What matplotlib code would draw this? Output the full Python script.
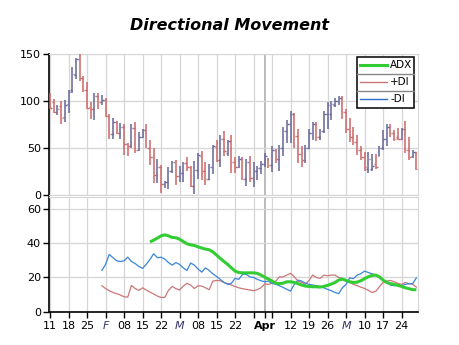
import numpy as np
import pandas as pd
import matplotlib
matplotlib.use("Agg")
import matplotlib.pyplot as plt
from matplotlib.lines import Line2D
from matplotlib.patches import Rectangle

# daily price bars, one per weekday from 11 Jan 2010
start_date = "2010-01-11"
open_ = [105, 99, 88, 95, 83, 97, 112, 128, 145, 124, 112, 94, 92, 105, 99, 101, 84, 65, 78, 66,
         72, 54, 52, 71, 48, 62, 69, 50, 40, 21, 30, 12, 13.5, 25, 35, 20, 23, 34, 30, 10,
         27, 42, 25, 17, 30, 51, 37, 60, 45, 57, 35, 30, 38, 17, 35, 18, 26, 29, 33, 38,
         32, 48, 38, 50, 68, 76, 86, 63, 44, 37, 50, 66, 75, 62, 68, 86, 86, 96, 100, 103,
         88, 70, 62, 56, 48, 40, 28, 28, 33, 42, 50, 60, 72, 66, 62, 60, 70, 48, 41, 46]
high = [108, 102, 96, 100, 101, 112, 136, 146, 150, 127, 120, 99, 109, 109, 106, 103, 86, 82, 79, 77,
        76, 55, 75, 78, 67, 70, 76, 58, 50, 38, 32, 14.5, 30, 36, 37.5, 31, 34.7, 40, 31, 36,
        44.7, 47, 35, 33, 53.5, 59, 64, 67.7, 59, 64, 40, 42, 40, 38, 42, 35, 31, 36, 45, 39,
        52, 49, 53, 72, 80, 89, 87, 70, 52, 53, 70, 78, 78, 70, 89, 99, 100, 103, 105, 105,
        92, 82, 72, 64, 52, 46, 46, 44, 44, 52, 69, 76, 75, 69, 71, 71, 79, 62, 48, 46]
low = [91, 87, 85, 76, 78, 87, 109, 123, 121, 110, 92, 81, 80, 92, 96, 83, 60, 60, 65, 60,
       43, 42, 50, 45, 47, 61, 50, 32, 13, 13, 2, 7, 6, 23, 11, 13.5, 13.5, 25, 8.5, 1,
       17, 16, 11, 16, 22, 34.7, 30, 42, 42, 23, 23, 29, 16, 10, 14, 9, 16, 22, 30, 29,
       24, 34, 25, 42, 55, 55, 50, 34, 30, 34, 49, 59, 57, 58, 66, 70, 80, 94, 96, 81,
       66, 56, 53, 43, 37, 25, 23, 25, 28, 41, 48, 52, 62, 57, 58, 58, 45, 37, 39, 27]
close = [93, 88, 91, 82, 96, 110, 129, 145, 124, 112, 93, 92, 105, 99, 101, 84, 65, 78, 66, 72,
         54, 52, 71, 48, 62, 69, 50, 40, 21, 30, 12, 13.5, 25.5, 35, 20, 23.5, 34, 30, 10, 27,
         42.5, 25, 17, 30, 51.6, 37.5, 60, 47, 57, 35, 30, 38, 17, 35, 18, 26, 29, 33, 42, 32,
         48, 38, 50, 68, 76, 86, 63, 44, 37, 50, 66, 75, 62, 68, 86, 96, 97, 100, 103, 88,
         70, 62, 56, 48, 40, 30, 38, 31, 30, 50, 60, 72, 66, 60, 60, 70, 48, 40, 46, 28]

# indicator series (first value index given by *_start)
di_start = 14
plus_di = [15.1, 13.5, 12.2, 11.2, 10.5, 9.7, 8.7, 8.5, 15.3, 13.5, 12.4, 13.9, 12.6, 11.4, 10.3, 9.1,
           8.3, 8.3, 12.4, 14.7, 13.4, 12.6, 14.9, 16.5, 15.5, 13.5, 15.1, 14.9, 13.9, 12.8, 17.8, 18.2,
           18, 17, 16.3, 15.5, 14.7, 13.9, 13.4, 13, 12.6, 12.2, 12.8, 13.9, 16.1, 15.9, 16.6, 17.8,
           20.3, 20.3, 21.3, 22.3, 20.3, 17.8, 17, 15.9, 18.2, 21.3, 19.9, 19.4, 21.3, 20.9, 21.3, 21.3,
           19.9, 19.4, 17.8, 17, 15.9, 15.1, 14.3, 13.5, 12.4, 11.2, 11.8, 14.5, 17, 17.8, 18.2, 17.4,
           16.5, 15.9, 17, 16.3, 15.9, 14.3]
minus_di = [24, 27.5, 33.3, 31.4, 29.6, 29.2, 29.6, 31.7, 29.2, 28, 26.3, 25.2, 27.5, 30.4, 33.7, 31.4,
            31.7, 30.6, 28.6, 27.1, 28.6, 27.5, 25.5, 24, 28.3, 27.1, 24.8, 23, 25.5, 24, 22, 20.5,
            18.8, 17, 15.9, 16.5, 19.4, 18.8, 21.7, 21.7, 20.3, 19.9, 18.8, 18, 17.4, 17.8, 16.5, 15.9,
            15.1, 14.1, 13, 12, 15.9, 18.4, 17.8, 16.6, 15.9, 15.5, 15.1, 14.7, 13.9, 13, 12.2, 11.2,
            10.5, 13.9, 15.9, 19.7, 19.2, 21.3, 22.1, 23.6, 22.8, 22.1, 21.3, 19.7, 18.2, 17, 15.5, 15.1,
            15.5, 15.1, 15.9, 16.3, 16.3, 19.7]
adx_start = 27
adx = [40.6, 41.6, 42.8, 44.1, 44.7, 44.1, 43.2, 43, 42.2, 40.8, 39.5, 38.9, 38.5, 37.7, 37, 36.4,
       36, 34.8, 32.9, 31, 29.2, 27.5, 25.5, 23.6, 22.8, 22.6, 22.6, 22.6, 22.6, 22.3, 21.3, 20.1,
       19, 17.8, 16.6, 16.3, 16.6, 17.4, 17.4, 17, 16.3, 15.5, 14.9, 14.7, 14.5, 14.5, 14.3, 14.7,
       15.3, 16.1, 17, 18.4, 19, 18.2, 17.4, 17, 17.2, 18, 19.2, 20.3, 21.1, 21.3, 20.3, 18.4,
       17, 16.3, 15.9, 15.3, 14.7, 13.9, 13.4, 12.8, 12.8]

week_labels = ["11", "18", "25", "F", "08", "15", "22", "M", "08", "15", "22", "",
               "Apr", "", "12", "19", "26", "M", "10", "17", "24"]

UP = "#666699"
DOWN = "#cc6666"
GRID = "#d6d6d6"

dates = pd.bdate_range(start_date, periods=len(close))
x = np.arange(len(dates))
month_start = np.r_[False, dates.month[1:] != dates.month[:-1]]
# month starts falling mid-week get their own heavier grid line and a bold label
mid_week_month = month_start & (dates.dayofweek != 0)
tick_pos = x[(dates.dayofweek == 0) | month_start]

fig = plt.figure(figsize=(4.6, 3.45), dpi=100)
fig.text(0.5, 0.925, "Directional Movement", ha="center", va="center",
         fontsize=11.5, fontweight="bold", fontstyle="italic")

ax1 = fig.add_axes([0.1072, 0.4348, 0.802, 0.4087])
ax2 = fig.add_axes([0.1072, 0.0965, 0.802, 0.3320])


def style(ax):
    ax.set_xlim(-0.2, 99.5)
    ax.set_xticks(tick_pos)
    for p in tick_pos:
        heavy = mid_week_month[p]
        ax.axvline(p, color="#bbbbbb" if heavy else GRID, lw=1.4 if heavy else 0.9, zorder=0)
    ax.yaxis.grid(True, color=GRID, lw=0.9)
    ax.set_axisbelow(True)
    for s in ("top", "right"):
        ax.spines[s].set_color(GRID)
    ax.spines["left"].set_color("black")
    ax.spines["left"].set_linewidth(1.2)
    ax.tick_params(axis="y", length=4, width=1, pad=2, labelsize=8)


# price bars
style(ax1)
ax1.set_ylim(0, 150)
ax1.set_yticks([0, 50, 100, 150])
ax1.spines["bottom"].set_color(GRID)
ax1.tick_params(axis="x", length=0, labelbottom=False)
colors = [UP if c >= o else DOWN for o, c in zip(open_, close)]
ax1.vlines(x, low, high, colors=colors, lw=1.1, zorder=3)
ax1.hlines(open_, x - 0.5, x - 0.1, colors=colors, lw=1.0, zorder=3)
ax1.hlines(close, x + 0.1, x + 0.5, colors=colors, lw=1.0, zorder=3)

# legend box
ax1.add_patch(Rectangle((0.834, 0.617), 0.155, 0.362, transform=ax1.transAxes,
                        facecolor="white", edgecolor="black", lw=1.1, zorder=5))
entries = [("ADX", "#33cc33", 2.2), ("+DI", "#cc7777", 1.0), ("-DI", "#2a6fcc", 1.0)]
row_h = 0.362 / 3
for k, (name, col, lw) in enumerate(entries):
    yc = 0.979 - row_h * (k + 0.5)
    ax1.add_line(Line2D([0.842, 0.916], [yc, yc], transform=ax1.transAxes, color=col, lw=lw, zorder=6))
    ax1.text(0.924, yc, name, transform=ax1.transAxes, va="center", ha="left", fontsize=7.5, zorder=6)
    if k > 0:
        yl = 0.979 - row_h * k
        ax1.add_line(Line2D([0.834, 0.989], [yl, yl], transform=ax1.transAxes, color="#888888",
                            lw=1.0, zorder=6))

# directional movement lines
style(ax2)
ax2.set_ylim(0, 66.6)
ax2.set_yticks([0, 20, 40, 60])
ax2.spines["bottom"].set_linewidth(1.2)
ax2.plot(x[di_start:], plus_di, color="#cc7777", lw=0.9, zorder=3)
ax2.plot(x[di_start:], minus_di, color="#3a85dd", lw=0.9, zorder=3)
ax2.plot(x[adx_start:], adx, color="#33cc33", lw=2.2, zorder=4, solid_capstyle="butt")
ax2.set_xticklabels(week_labels)
ax2.tick_params(axis="x", length=4, width=1, pad=3, labelsize=8)
for lab, p in zip(ax2.get_xticklabels(), tick_pos):
    if mid_week_month[p]:
        lab.set_fontweight("bold")
    elif month_start[p]:
        lab.set_fontstyle("italic")
        lab.set_color("#333366")

fig.savefig("out.png", dpi=100)
